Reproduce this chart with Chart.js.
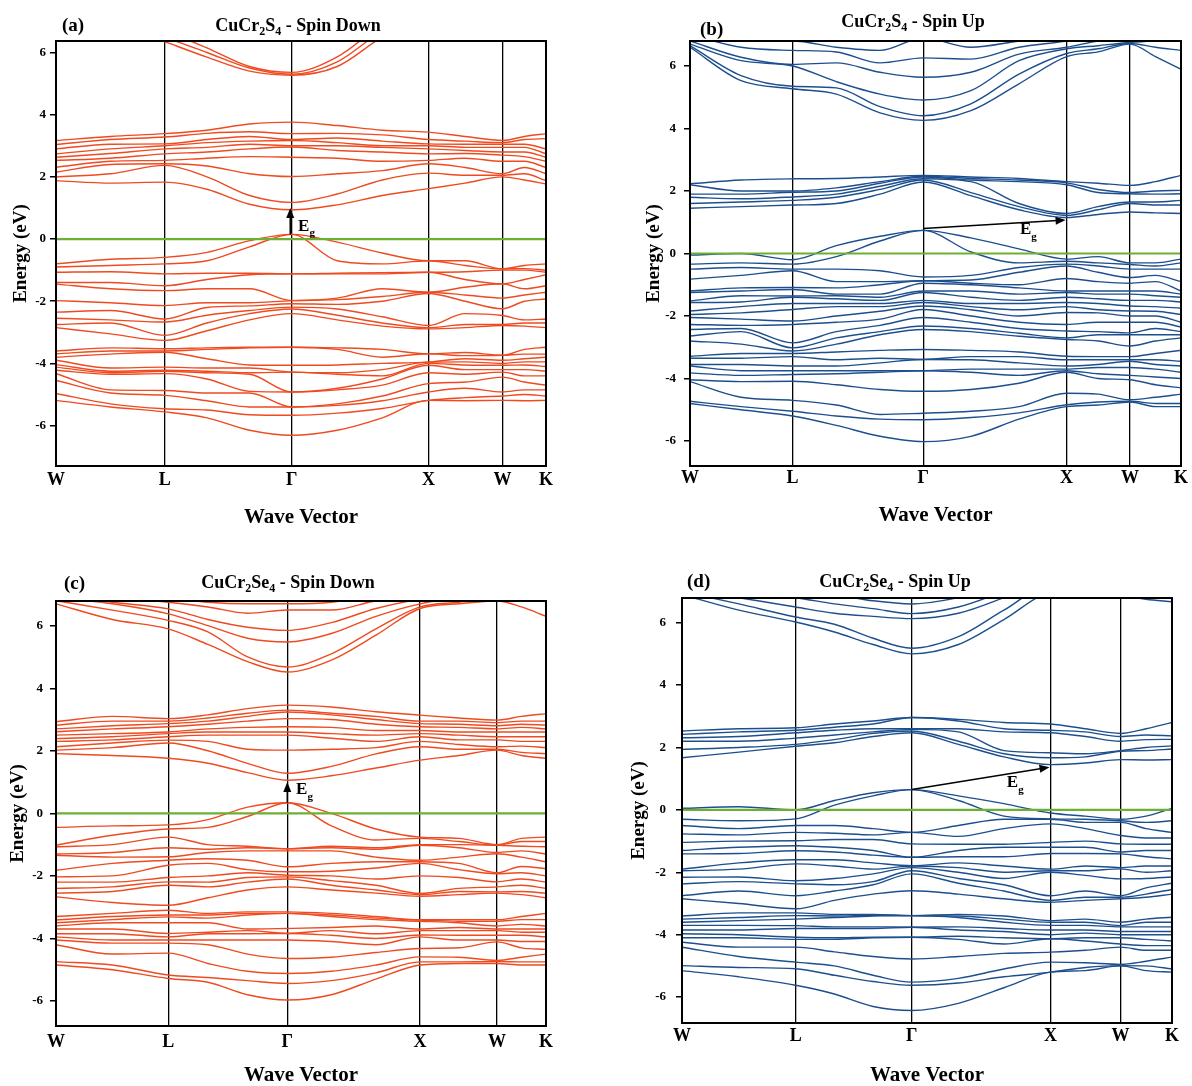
<!DOCTYPE html>
<html><head><meta charset="utf-8">
<script src="https://cdn.jsdelivr.net/npm/chart.js@4.4.0/dist/chart.umd.min.js"></script>
<style>
html,body{margin:0;padding:0;background:#fff;width:1192px;height:1086px;overflow:hidden}
canvas{position:absolute}
</style></head><body>
<canvas id="ca" style="left:0px;top:0px" width="570" height="545"></canvas>
<canvas id="cb" style="left:600px;top:0px" width="592" height="545"></canvas>
<canvas id="cc" style="left:0px;top:555px" width="570" height="531"></canvas>
<canvas id="cd" style="left:600px;top:555px" width="592" height="531"></canvas>
<script>
// ---------- shared ----------
const kLabels = ['W','L','Γ','X','W','K'];
const yTickVals = [-6,-4,-2,0,2,4,6];
const fermi = [0, 0];

// ---------- panel (a) CuCr2S4 spin down ----------
const ksym_a = [0, 0.222, 0.481, 0.760, 0.911, 1];
const kpos_a = [0, 0.111, 0.222, 0.308, 0.395, 0.481, 0.574, 0.666, 0.760, 0.835, 0.911, 0.956, 1];
// each inner list = energies (eV) at one k sample, low to high
const a_hi = [
 [7.5,7.7,7.9],[7.0,7.2,7.4],[6.35,6.5,6.7],[5.85,6.0,6.15],[5.4,5.5,5.55],[5.27,5.3,5.36],
 [5.55,5.7,5.86],[6.5,6.7,6.9],[7.2,7.4,7.6],[7.5,7.6,7.8],[7.6,7.8,8.0],[7.6,7.8,8.0],[7.6,7.8,8.0]];
const a_mid = [
 [1.88,2.0,2.15,2.31,2.53,2.63,2.74,2.9,3.04,3.17],
 [1.8,2.1,2.4,2.5,2.6,2.75,2.9,3.05,3.2,3.3],
 [1.83,2.37,2.42,2.53,2.74,2.9,3.0,3.06,3.28,3.39],
 [1.6,2.0,2.35,2.6,2.8,2.95,3.1,3.2,3.4,3.5],
 [1.12,1.4,2.1,2.65,2.9,3.05,3.15,3.3,3.45,3.7],
 [0.94,1.18,2.01,2.63,2.96,3.0,3.17,3.2,3.39,3.76],
 [1.1,1.45,2.1,2.6,2.85,3.0,3.1,3.25,3.4,3.65],
 [1.4,1.9,2.2,2.5,2.8,2.95,3.0,3.15,3.35,3.5],
 [1.62,2.12,2.42,2.53,2.74,2.9,3.0,3.06,3.2,3.44],
 [1.8,2.05,2.3,2.6,2.75,2.85,2.95,3.05,3.15,3.3],
 [2.0,2.05,2.1,2.5,2.7,2.8,2.95,3.05,3.1,3.17],
 [1.9,2.1,2.3,2.5,2.65,2.8,2.95,3.05,3.2,3.3],
 [1.77,1.88,2.1,2.3,2.5,2.63,2.74,2.9,3.23,3.39]];
const a_val = [
 [-2.85,-2.75,-2.55,-2.35,-1.98,-1.45,-1.4,-1.07,-0.9,-0.8],
 [-3.05,-2.7,-2.6,-2.3,-2.05,-1.6,-1.4,-1.05,-0.85,-0.65],
 [-3.26,-3.1,-2.67,-2.57,-2.14,-1.66,-1.5,-1.12,-0.8,-0.59],
 [-2.95,-2.7,-2.45,-2.2,-2.05,-1.6,-1.3,-1.1,-0.7,-0.43],
 [-2.6,-2.4,-2.3,-2.15,-2.05,-1.6,-1.15,-1.1,-0.25,-0.05],
 [-2.4,-2.25,-2.19,-2.08,-1.98,-1.98,-1.12,-1.12,0.15,0.15],
 [-2.6,-2.45,-2.25,-2.1,-1.95,-1.9,-1.12,-1.1,-0.7,-0.1],
 [-2.8,-2.7,-2.5,-2.0,-1.85,-1.6,-1.12,-1.08,-0.8,-0.45],
 [-2.89,-2.85,-2.78,-1.75,-1.71,-1.71,-1.07,-1.07,-0.7,-0.7],
 [-2.85,-2.75,-2.4,-2.0,-1.8,-1.55,-1.3,-1.05,-0.85,-0.7],
 [-2.78,-2.75,-2.46,-2.24,-1.9,-1.44,-1.44,-1.0,-0.96,-0.96],
 [-2.8,-2.7,-2.6,-2.0,-1.8,-1.6,-1.3,-1.0,-0.95,-0.85],
 [-2.85,-2.7,-2.57,-1.93,-1.71,-1.5,-1.15,-1.07,-1.0,-0.8]];
const a_low = [
 [-5.19,-4.97,-4.55,-4.33,-4.22,-4.12,-4.04,-3.9,-3.8,-3.69,-3.6],
 [-5.4,-5.3,-4.95,-4.85,-4.35,-4.3,-4.25,-4.15,-3.7,-3.6,-3.5],
 [-5.56,-5.46,-5.03,-4.87,-4.33,-4.25,-4.22,-4.12,-3.64,-3.6,-3.53],
 [-5.75,-5.5,-5.2,-4.95,-4.5,-4.3,-4.25,-4.15,-3.85,-3.55,-3.5],
 [-6.15,-5.65,-5.4,-4.95,-4.9,-4.35,-4.3,-4.15,-4.05,-3.5,-3.48],
 [-6.31,-5.67,-5.4,-5.4,-4.92,-4.92,-4.28,-4.28,-4.06,-3.48,-3.48],
 [-6.15,-5.6,-5.35,-5.3,-4.85,-4.8,-4.35,-4.3,-4.05,-3.55,-3.5],
 [-5.75,-5.45,-5.2,-5.05,-4.7,-4.5,-4.4,-4.2,-4.0,-3.8,-3.55],
 [-5.19,-5.19,-4.92,-4.65,-4.3,-4.06,-4.0,-3.96,-3.96,-3.69,-3.69],
 [-5.2,-5.1,-4.8,-4.6,-4.35,-4.2,-4.05,-3.95,-3.85,-3.75,-3.65],
 [-5.19,-5.05,-4.92,-4.44,-4.28,-4.2,-4.06,-4.0,-3.9,-3.74,-3.74],
 [-5.2,-5.0,-4.85,-4.6,-4.4,-4.2,-4.05,-3.95,-3.85,-3.7,-3.55],
 [-5.19,-5.05,-4.85,-4.7,-4.4,-4.25,-4.1,-3.95,-3.8,-3.7,-3.48]];
const eg_a = [[0.478,0.15],[0.478,1.0]];
const eglbl_a = [0.494, 0.4];

// ---------- panel (b) CuCr2S4 spin up ----------
const ksym_b = [0, 0.209, 0.475, 0.767, 0.896, 1];
const kpos_b = [0, 0.104, 0.209, 0.298, 0.387, 0.475, 0.572, 0.670, 0.767, 0.831, 0.896, 0.948, 1];
const b_hi = [
 [6.6,6.65,6.7,6.8,7.0,7.2],[5.53,5.69,6.17,6.28,6.6,6.8],[5.27,5.35,6.0,6.05,6.5,6.8],
 [5.1,5.3,5.5,6.1,6.45,6.6],[4.5,4.7,5.1,5.8,6.1,6.5],[4.26,4.41,4.91,5.64,6.26,6.9],
 [4.57,4.79,5.21,5.8,6.22,6.6],[5.43,5.74,6.17,6.38,6.6,6.8],[6.3,6.4,6.55,6.6,6.8,7.0],
 [6.45,6.55,6.65,6.8,7.0,7.2],[6.7,6.72,6.75,6.9,7.1,7.3],[6.3,6.6,6.8,7.0,7.2,7.4],[5.9,6.5,6.8,7.0,7.2,7.4]];
const b_mid = [
 [1.45,1.6,1.8,1.9,2.2,2.23],[1.5,1.65,1.75,1.9,2.0,2.35],[1.55,1.7,1.81,1.96,2.0,2.39],
 [1.6,1.8,1.9,2.0,2.1,2.4],[1.9,2.05,2.15,2.25,2.3,2.45],[2.29,2.35,2.39,2.45,2.47,2.5],
 [1.85,1.95,2.3,2.35,2.4,2.45],[1.4,1.5,1.6,2.3,2.35,2.4],[1.15,1.22,1.28,2.2,2.26,2.3],
 [1.25,1.4,1.5,1.95,2.05,2.25],[1.33,1.6,1.65,1.91,1.95,2.18],[1.3,1.55,1.65,1.9,2.0,2.3],
 [1.28,1.55,1.7,1.91,2.02,2.5]];
const b_val = [
 [-2.8,-2.64,-2.43,-2.27,-2.05,-1.95,-1.84,-1.57,-1.52,-1.25,-1.2,-0.82,-0.5,-0.34,-0.05],
 [-2.9,-2.5,-2.4,-2.3,-2.1,-1.9,-1.7,-1.55,-1.35,-1.2,-1.1,-0.7,-0.45,-0.3,0.0],
 [-3.12,-3.02,-2.86,-2.27,-2.16,-1.79,-1.6,-1.4,-1.36,-1.15,-1.09,-0.55,-0.5,-0.34,-0.2],
 [-2.9,-2.7,-2.5,-2.2,-2.0,-1.7,-1.6,-1.45,-1.35,-1.3,-1.1,-0.9,-0.5,-0.1,0.25],
 [-2.6,-2.5,-2.3,-2.1,-1.85,-1.7,-1.6,-1.5,-1.4,-1.3,-1.0,-0.9,-0.55,0.4,0.55],
 [-2.43,-2.32,-2.05,-1.79,-1.68,-1.57,-1.5,-1.25,-1.2,-0.95,-0.87,-0.87,-0.75,0.74,0.74],
 [-2.5,-2.4,-2.2,-2.0,-1.8,-1.7,-1.6,-1.4,-1.2,-1.0,-0.95,-0.85,-0.7,0.05,0.5],
 [-2.65,-2.55,-2.4,-2.2,-2.0,-1.8,-1.6,-1.5,-1.3,-1.1,-1.0,-0.6,-0.45,-0.3,0.15],
 [-2.75,-2.7,-2.48,-2.27,-1.89,-1.7,-1.57,-1.4,-1.25,-1.2,-0.8,-0.4,-0.34,-0.25,-0.18],
 [-2.8,-2.6,-2.5,-2.2,-1.9,-1.8,-1.6,-1.45,-1.3,-1.2,-0.9,-0.6,-0.4,-0.3,-0.1],
 [-2.96,-2.6,-2.54,-2.2,-2.0,-1.84,-1.68,-1.5,-1.3,-1.2,-0.95,-0.77,-0.5,-0.35,-0.3],
 [-2.8,-2.6,-2.4,-2.2,-2.0,-1.85,-1.7,-1.5,-1.35,-1.2,-0.9,-0.7,-0.5,-0.4,-0.3],
 [-2.7,-2.6,-2.5,-2.35,-2.2,-1.95,-1.75,-1.55,-1.4,-1.3,-1.2,-0.9,-0.5,-0.3,-0.18]];
const b_low = [
 [-4.8,-4.73,-4.1,-4.04,-3.82,-3.6,-3.55,-3.35,-3.29],
 [-5.0,-4.9,-4.6,-4.1,-3.9,-3.75,-3.55,-3.35,-3.2],
 [-5.2,-5.05,-4.7,-4.09,-3.87,-3.75,-3.6,-3.3,-3.2],
 [-5.5,-5.2,-4.85,-4.2,-3.85,-3.75,-3.6,-3.4,-3.15],
 [-5.85,-5.3,-5.15,-4.35,-3.8,-3.75,-3.5,-3.35,-3.1],
 [-6.02,-5.32,-5.11,-4.41,-3.75,-3.75,-3.39,-3.39,-3.07],
 [-5.85,-5.25,-5.05,-4.35,-3.8,-3.7,-3.4,-3.3,-3.1],
 [-5.3,-5.1,-4.9,-4.15,-3.9,-3.7,-3.5,-3.3,-3.15],
 [-4.9,-4.84,-4.47,-3.8,-3.75,-3.7,-3.6,-3.4,-3.29],
 [-4.85,-4.75,-4.5,-4.0,-3.85,-3.65,-3.55,-3.4,-3.3],
 [-4.75,-4.73,-4.68,-4.04,-3.9,-3.65,-3.45,-3.4,-3.3],
 [-4.9,-4.8,-4.6,-4.2,-3.95,-3.7,-3.55,-3.4,-3.2],
 [-4.9,-4.8,-4.5,-4.3,-4.0,-3.8,-3.6,-3.45,-3.1]];
const eg_b = [[0.475,0.8],[0.765,1.07]];
const eglbl_b = [0.672, 0.75];

// ---------- panel (c) CuCr2Se4 spin down ----------
const ksym_c = [0, 0.229, 0.472, 0.743, 0.900, 1];
const kpos_c = [0, 0.115, 0.229, 0.310, 0.391, 0.472, 0.562, 0.653, 0.743, 0.822, 0.900, 0.950, 1];
const c_hi = [
 [6.7,6.8,6.9,7.0,7.2,7.4],[6.2,6.5,6.7,6.75,6.9,7.1],[5.9,6.17,6.38,6.54,6.75,6.9],
 [5.4,5.8,6.0,6.2,6.6,6.75],[4.85,5.0,5.6,5.95,6.4,6.7],[4.52,4.68,5.48,5.85,6.5,6.7],
 [4.9,5.1,5.75,6.1,6.5,6.75],[5.7,5.9,6.3,6.55,6.8,7.0],[6.55,6.6,6.7,6.85,7.0,7.2],
 [6.7,6.75,6.9,7.0,7.2,7.4],[6.8,6.9,7.0,7.1,7.3,7.5],[6.6,6.9,7.0,7.1,7.3,7.5],[6.3,6.9,7.0,7.1,7.3,7.5]];
const c_mid = [
 [1.91,2.02,2.13,2.3,2.39,2.5,2.61,2.7,2.82,2.93],
 [1.85,2.1,2.25,2.35,2.45,2.55,2.7,2.8,2.95,3.1],
 [1.76,2.25,2.34,2.45,2.55,2.6,2.77,2.87,2.95,3.03],
 [1.6,2.0,2.3,2.5,2.6,2.7,2.85,2.95,3.05,3.15],
 [1.3,1.6,2.05,2.5,2.6,2.75,2.95,3.1,3.2,3.35],
 [1.06,1.28,2.02,2.5,2.6,2.77,3.03,3.24,3.3,3.46],
 [1.2,1.5,2.05,2.4,2.55,2.75,3.0,3.15,3.2,3.4],
 [1.45,1.9,2.1,2.3,2.5,2.65,2.85,3.0,3.1,3.25],
 [1.7,2.13,2.3,2.45,2.55,2.65,2.77,2.87,2.95,3.14],
 [1.85,2.05,2.2,2.35,2.5,2.6,2.75,2.85,2.95,3.05],
 [2.02,2.05,2.13,2.35,2.45,2.6,2.7,2.8,2.9,2.98],
 [1.85,1.95,2.15,2.3,2.45,2.6,2.75,2.85,2.95,3.1],
 [1.76,1.91,2.1,2.3,2.45,2.6,2.7,2.82,2.95,3.19]];
const c_val = [
 [-2.67,-2.55,-2.4,-2.2,-2.03,-1.82,-1.34,-1.3,-1.07,-1.02,-0.45],
 [-2.85,-2.5,-2.35,-2.2,-2.0,-1.6,-1.4,-1.25,-1.0,-0.7,-0.4],
 [-2.94,-2.3,-2.19,-2.05,-1.66,-1.5,-1.39,-1.1,-0.76,-0.5,-0.37],
 [-2.7,-2.35,-2.2,-2.0,-1.6,-1.45,-1.25,-1.15,-1.0,-0.45,-0.2],
 [-2.45,-2.2,-2.05,-1.9,-1.8,-1.5,-1.2,-1.1,-1.05,-0.1,0.2],
 [-2.35,-2.1,-2.03,-1.98,-1.87,-1.71,-1.2,-1.13,-1.13,0.34,0.34],
 [-2.45,-2.3,-2.15,-2.0,-1.85,-1.6,-1.2,-1.1,-1.05,-0.4,0.0],
 [-2.55,-2.45,-2.3,-2.1,-1.75,-1.55,-1.4,-1.15,-1.1,-0.85,-0.5],
 [-2.65,-2.6,-2.56,-2.0,-1.6,-1.55,-1.5,-1.02,-1.0,-0.8,-0.76],
 [-2.6,-2.5,-2.4,-2.05,-1.8,-1.6,-1.4,-1.1,-1.0,-0.9,-0.8],
 [-2.55,-2.51,-2.35,-2.19,-1.93,-1.9,-1.29,-1.25,-1.02,-1.02,-1.0],
 [-2.6,-2.5,-2.3,-2.1,-1.9,-1.7,-1.4,-1.2,-1.05,-0.9,-0.8],
 [-2.7,-2.55,-2.4,-2.2,-2.0,-1.77,-1.55,-1.3,-1.07,-0.9,-0.76]];
const c_low = [
 [-4.85,-4.74,-4.2,-4.05,-3.95,-3.85,-3.7,-3.6,-3.5,-3.41,-3.3],
 [-5.0,-4.85,-4.5,-4.15,-4.05,-3.85,-3.7,-3.5,-3.4,-3.3,-3.2],
 [-5.28,-5.17,-4.47,-4.15,-4.05,-3.95,-3.84,-3.5,-3.31,-3.25,-3.1],
 [-5.4,-5.25,-4.8,-4.2,-4.05,-3.85,-3.8,-3.5,-3.35,-3.25,-3.2],
 [-5.8,-5.35,-5.05,-4.5,-4.05,-3.85,-3.75,-3.7,-3.25,-3.2,-3.15],
 [-5.97,-5.44,-5.12,-4.64,-4.05,-3.84,-3.84,-3.68,-3.2,-3.2,-3.15],
 [-5.8,-5.35,-5.05,-4.6,-4.1,-3.9,-3.75,-3.65,-3.3,-3.25,-3.2],
 [-5.3,-5.1,-4.85,-4.45,-4.2,-4.0,-3.85,-3.6,-3.4,-3.35,-3.3],
 [-4.85,-4.75,-4.59,-4.32,-3.95,-3.89,-3.75,-3.7,-3.45,-3.41,-3.4],
 [-4.8,-4.75,-4.6,-4.3,-4.05,-3.9,-3.75,-3.65,-3.5,-3.45,-3.4],
 [-4.8,-4.74,-4.7,-4.11,-4.05,-3.9,-3.75,-3.7,-3.6,-3.45,-3.4],
 [-4.85,-4.75,-4.6,-4.3,-4.1,-3.9,-3.8,-3.7,-3.55,-3.4,-3.3],
 [-4.85,-4.75,-4.5,-4.35,-4.1,-3.95,-3.8,-3.7,-3.6,-3.4,-3.2]];
const eg_c = [[0.472,0.34],[0.472,1.0]];
const eglbl_c = [0.49, 0.75];

// ---------- panel (d) CuCr2Se4 spin up ----------
const ksym_d = [0, 0.232, 0.469, 0.752, 0.895, 1];
const kpos_d = [0, 0.116, 0.232, 0.311, 0.390, 0.469, 0.564, 0.657, 0.752, 0.823, 0.895, 0.947, 1];
const d_hi = [
 [6.9,7.0,7.1,7.3,7.5],[6.4,6.6,6.8,7.0,7.2],[6.02,6.18,6.5,6.8,7.0],[5.7,5.95,6.3,6.6,6.9],
 [5.3,5.5,6.2,6.45,6.7],[5.0,5.18,6.13,6.29,6.6],[5.3,5.55,6.3,6.5,6.8],[6.1,6.4,6.8,7.0,7.2],
 [7.0,7.2,7.4,7.5,7.6],[7.1,7.2,7.4,7.5,7.6],[6.9,7.1,7.3,7.5,7.6],[6.75,7.0,7.2,7.4,7.6],[6.67,7.0,7.2,7.4,7.6]];
const d_mid = [
 [1.67,1.94,2.2,2.31,2.42,2.53],[1.85,2.0,2.2,2.35,2.5,2.6],[2.04,2.1,2.3,2.47,2.55,2.63],
 [2.15,2.25,2.4,2.55,2.65,2.75],[2.35,2.45,2.5,2.6,2.75,2.85],[2.47,2.53,2.58,2.6,2.96,2.96],
 [2.1,2.2,2.5,2.6,2.85,2.9],[1.7,1.8,1.9,2.5,2.6,2.8],[1.45,1.67,1.83,2.47,2.55,2.75],
 [1.5,1.7,1.8,2.35,2.5,2.6],[1.61,1.88,1.9,2.2,2.35,2.45],[1.6,1.9,2.0,2.25,2.4,2.6],
 [1.61,1.95,2.05,2.26,2.37,2.8]];
const d_val = [
 [-2.85,-2.75,-2.37,-2.16,-1.95,-1.9,-1.41,-1.3,-1.04,-0.77,-0.5,-0.3,0.05],
 [-3.0,-2.6,-2.3,-2.15,-1.9,-1.7,-1.4,-1.2,-1.0,-0.8,-0.6,-0.35,0.1],
 [-3.17,-2.75,-2.37,-2.27,-1.73,-1.6,-1.31,-1.15,-0.99,-0.72,-0.5,-0.29,0.0],
 [-2.9,-2.6,-2.4,-2.2,-1.8,-1.6,-1.35,-1.2,-0.95,-0.75,-0.5,0.15,0.3],
 [-2.7,-2.4,-2.3,-2.05,-1.9,-1.7,-1.45,-1.3,-0.95,-0.8,-0.6,0.45,0.55],
 [-2.59,-2.05,-1.95,-1.85,-1.8,-1.79,-1.52,-1.52,-1.09,-0.72,-0.72,0.65,0.65],
 [-2.7,-2.35,-2.2,-2.0,-1.85,-1.7,-1.5,-1.3,-1.1,-0.85,-0.5,0.3,0.45],
 [-2.85,-2.6,-2.4,-2.2,-2.0,-1.8,-1.5,-1.2,-1.1,-0.6,-0.3,-0.2,0.2],
 [-2.96,-2.9,-2.75,-2.0,-1.95,-1.9,-1.4,-1.2,-1.04,-0.45,-0.3,-0.29,-0.1],
 [-2.9,-2.8,-2.6,-2.1,-1.95,-1.8,-1.4,-1.2,-1.0,-0.6,-0.4,-0.3,-0.2],
 [-2.85,-2.8,-2.75,-2.21,-1.89,-1.85,-1.41,-1.35,-1.09,-0.82,-0.4,-0.35,-0.3],
 [-2.8,-2.7,-2.5,-2.2,-2.0,-1.8,-1.5,-1.3,-1.1,-0.9,-0.6,-0.4,-0.2],
 [-2.7,-2.55,-2.35,-2.15,-1.95,-1.8,-1.57,-1.3,-1.1,-0.9,-0.72,-0.35,0.05]];
const d_low = [
 [-5.15,-4.99,-4.4,-4.24,-4.1,-3.97,-3.85,-3.7,-3.6,-3.5,-3.4],
 [-5.35,-5.05,-4.7,-4.4,-4.1,-4.0,-3.85,-3.7,-3.55,-3.45,-3.3],
 [-5.62,-5.09,-4.88,-4.4,-4.15,-4.08,-3.8,-3.71,-3.5,-3.39,-3.3],
 [-5.9,-5.3,-5.0,-4.55,-4.15,-4.1,-3.8,-3.75,-3.45,-3.4,-3.35],
 [-6.3,-5.5,-5.3,-4.7,-4.1,-4.08,-3.8,-3.75,-3.4,-3.38,-3.35],
 [-6.43,-5.62,-5.52,-4.78,-4.08,-4.08,-3.76,-3.76,-3.39,-3.39,-3.39],
 [-6.2,-5.55,-5.4,-4.7,-4.15,-4.05,-3.85,-3.75,-3.45,-3.4,-3.35],
 [-5.7,-5.35,-5.1,-4.6,-4.3,-4.1,-3.9,-3.8,-3.6,-3.5,-3.4],
 [-5.2,-5.2,-4.88,-4.56,-4.13,-4.13,-4.0,-3.85,-3.7,-3.6,-3.55],
 [-5.15,-5.05,-4.9,-4.5,-4.2,-4.1,-3.95,-3.85,-3.7,-3.6,-3.5],
 [-5.0,-4.99,-4.95,-4.4,-4.3,-4.1,-4.0,-3.9,-3.75,-3.71,-3.6],
 [-5.15,-5.0,-4.85,-4.5,-4.35,-4.15,-4.0,-3.9,-3.75,-3.6,-3.5],
 [-5.2,-5.1,-4.72,-4.5,-4.35,-4.2,-4.0,-3.9,-3.75,-3.6,-3.44]];
const eg_d = [[0.469,0.65],[0.75,1.37]];
const eglbl_d = [0.663, 0.87];

// ---------- drawing ----------
const FONT = "'Liberation Serif', 'Times New Roman', serif";
Chart.defaults.font.family = FONT;
Chart.defaults.font.weight = 'bold';
Chart.defaults.color = '#000';

function transpose(cols){ return cols[0].map((_, j) => cols.map(c => c[j])); }

function makeDecor(p){
  return {
    id: 'decor_' + p.id,
    afterDatasetsDraw(chart){
      const {ctx, chartArea: ca, scales: {x, y}} = chart;
      ctx.save();
      ctx.strokeStyle = '#000'; ctx.lineWidth = 2;
      ctx.strokeRect(ca.left, ca.top, ca.right - ca.left, ca.bottom - ca.top);
      const x0 = x.getPixelForValue(p.eg[0][0]), y0 = y.getPixelForValue(p.eg[0][1]);
      const x1 = x.getPixelForValue(p.eg[1][0]), y1 = y.getPixelForValue(p.eg[1][1]);
      const ang = Math.atan2(y1 - y0, x1 - x0), hl = 10, hw = 4;
      ctx.strokeStyle = '#000'; ctx.fillStyle = '#000'; ctx.lineWidth = 1.5;
      ctx.beginPath(); ctx.moveTo(x0, y0);
      ctx.lineTo(x1 - hl * 0.8 * Math.cos(ang), y1 - hl * 0.8 * Math.sin(ang)); ctx.stroke();
      ctx.beginPath(); ctx.moveTo(x1, y1);
      ctx.lineTo(x1 - hl * Math.cos(ang) + hw * Math.sin(ang), y1 - hl * Math.sin(ang) - hw * Math.cos(ang));
      ctx.lineTo(x1 - hl * Math.cos(ang) - hw * Math.sin(ang), y1 - hl * Math.sin(ang) + hw * Math.cos(ang));
      ctx.closePath(); ctx.fill();
      const lx = x.getPixelForValue(p.eglbl[0]), ly = y.getPixelForValue(p.eglbl[1]);
      ctx.textAlign = 'left'; ctx.textBaseline = 'middle';
      ctx.font = 'bold 17px ' + FONT; ctx.fillText('E', lx, ly);
      const ew = ctx.measureText('E').width;
      ctx.font = 'bold 11px ' + FONT; ctx.fillText('g', lx + ew, ly + 7);
      ctx.font = 'bold 19px ' + FONT; ctx.fillText(p.letter, p.letterPos[0], p.letterPos[1]);
      const parts = p.title;
      let tw = 0;
      parts.forEach(([t, sub]) => { ctx.font = 'bold ' + (sub ? 12 : 18) + 'px ' + FONT; tw += ctx.measureText(t).width; });
      let tx = p.titlePos[0] - tw / 2;
      parts.forEach(([t, sub]) => {
        ctx.font = 'bold ' + (sub ? 12 : 18) + 'px ' + FONT;
        ctx.fillText(t, tx, p.titlePos[1] + (sub ? 6 : 0));
        tx += ctx.measureText(t).width;
      });
      ctx.restore();
    }
  };
}

function makeChart(p){
  const bands = [].concat(...p.groups.map(transpose));
  const datasets = bands.map(b => ({
    data: p.kpos.map((k, i) => ({x: k, y: b[i]})),
    borderColor: p.color, borderWidth: 1.4, pointRadius: 0,
    cubicInterpolationMode: 'monotone', fill: false
  }));
  datasets.push({
    data: [{x: 0, y: fermi[0]}, {x: 1, y: fermi[1]}],
    borderColor: '#6cb033', borderWidth: 2.2, pointRadius: 0, order: -1
  });
  new Chart(document.getElementById(p.id), {
    type: 'line',
    data: {datasets},
    options: {
      responsive: false, animation: false, events: [],
      layout: {padding: {left: 0, top: p.area.top, right: p.area.padRight, bottom: 0}},
      plugins: {legend: {display: false}, tooltip: {enabled: false}, title: {display: false}},
      scales: {
        x: {
          type: 'linear', min: 0, max: 1,
          afterBuildTicks: s => { s.ticks = p.ksym.map(v => ({value: v})); },
          afterFit: s => { s.height = p.area.xH; },
          ticks: {autoSkip: false, maxRotation: 0, padding: p.xTickPad, color: '#000',
                  font: {size: 18, weight: 'bold'}, callback: (v, i) => kLabels[i]},
          grid: {color: '#000', lineWidth: 1.3, drawTicks: false},
          border: {color: '#000', width: 2},
          title: {display: true, text: 'Wave Vector', color: '#000',
                  font: {size: 21, weight: 'bold', lineHeight: 1}, padding: {top: 0, bottom: p.xTitlePad}}
        },
        y: {
          type: 'linear', min: p.ymin, max: p.ymax,
          afterBuildTicks: s => { s.ticks = yTickVals.map(v => ({value: v})); },
          afterFit: s => { s.width = p.area.left; },
          ticks: {padding: p.yTickPad, color: '#000', font: {size: 13, weight: 'bold'}},
          grid: {drawOnChartArea: false, drawTicks: true, tickLength: 6, color: '#000', lineWidth: 1.5},
          border: {color: '#000', width: 2},
          title: {display: true, text: 'Energy (eV)', color: '#000',
                  font: {size: 19, weight: 'bold', lineHeight: 1}, padding: {top: p.yTitlePad, bottom: 0}}
        }
      }
    },
    plugins: [makeDecor(p)]
  });
}

const RED = '#ef4a20', BLUE = '#1d4f8e';

makeChart({id: 'ca', color: RED, kpos: kpos_a, ksym: ksym_a, groups: [a_hi, a_mid, a_val, a_low],
  ymin: -7.3, ymax: 6.37, eg: eg_a, eglbl: eglbl_a,
  area: {left: 56, top: 41, padRight: 24, xH: 79}, xTickPad: 4, xTitlePad: 17, yTickPad: 4, yTitlePad: 12,
  letter: '(a)', letterPos: [62, 26], titlePos: [298, 26],
  title: [['CuCr',0],['2',1],['S',0],['4',1],[' - Spin Down',0]]});

makeChart({id: 'cb', color: BLUE, kpos: kpos_b, ksym: ksym_b, groups: [b_hi, b_mid, b_val, b_low],
  ymin: -6.8, ymax: 6.8, eg: eg_b, eglbl: eglbl_b,
  area: {left: 90, top: 41, padRight: 11, xH: 79}, xTickPad: 2, xTitlePad: 19, yTickPad: 8, yTitlePad: 45,
  letter: '(b)', letterPos: [100, 30], titlePos: [313, 22],
  title: [['CuCr',0],['2',1],['S',0],['4',1],[' - Spin Up',0]]});

makeChart({id: 'cc', color: RED, kpos: kpos_c, ksym: ksym_c, groups: [c_hi, c_mid, c_val, c_low],
  ymin: -6.8, ymax: 6.79, eg: eg_c, eglbl: eglbl_c,
  area: {left: 56, top: 46, padRight: 24, xH: 60}, xTickPad: 6, xTitlePad: 0, yTickPad: 7, yTitlePad: 9,
  letter: '(c)', letterPos: [64, 29], titlePos: [288, 28],
  title: [['CuCr',0],['2',1],['Se',0],['4',1],[' - Spin Down',0]]});

makeChart({id: 'cd', color: BLUE, kpos: kpos_d, ksym: ksym_d, groups: [d_hi, d_mid, d_val, d_low],
  ymin: -6.83, ymax: 6.79, eg: eg_d, eglbl: eglbl_d,
  area: {left: 82, top: 43, padRight: 20, xH: 63}, xTickPad: 3, xTitlePad: 0, yTickPad: 10, yTitlePad: 30,
  letter: '(d)', letterPos: [87, 27], titlePos: [295, 27],
  title: [['CuCr',0],['2',1],['Se',0],['4',1],[' - Spin Up',0]]});
</script>
</body></html>
